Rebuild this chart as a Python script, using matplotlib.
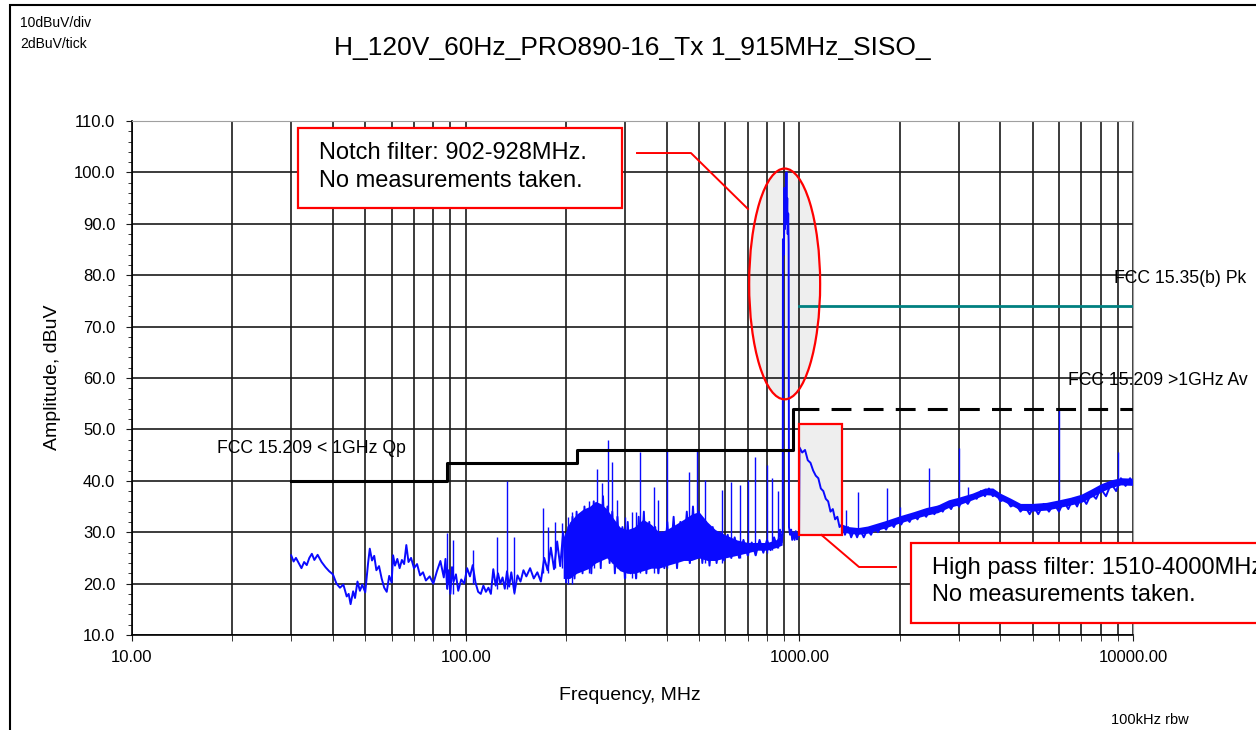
import matplotlib
matplotlib.use("Agg")
import matplotlib.pyplot as plt
from matplotlib.patches import Rectangle, Ellipse
from matplotlib.lines import Line2D
from matplotlib.ticker import FixedLocator, FuncFormatter, MultipleLocator, NullFormatter

plt.rcParams['font.family'] = ['Liberation Sans', 'DejaVu Sans']

# measured trace (MHz, dBuV)
trace_f = [30, 30.5, 31, 31.6, 32.2, 32.8, 33.4, 34, 34.6, 35.2, 36, 37, 38, 39, 40, 41, 42, 43, 44, 44.6,
           45.2, 46, 46.6, 47.4, 48.2, 49, 50, 51, 51.6, 52.4, 53.2, 54, 55, 56, 57, 58, 59, 60, 60.6, 61.4,
           62.4, 63.4, 64.4, 65.4, 66.4, 67.4, 68.6, 70, 71.5, 73, 74.5, 76, 78, 80, 82, 84, 86, 87, 88, 89,
           90, 91, 92, 93.5, 95, 97, 99, 101, 103, 105, 107, 109, 111, 113, 115, 117, 119, 121, 123, 125,
           127, 129, 131, 133, 135, 137, 140, 143, 146, 149, 152, 156, 160, 164, 168, 172, 176, 180, 184, 188,
           192, 196, 200, 203, 206, 209, 212, 215, 218, 221, 224, 227, 230, 234, 238, 242, 246, 250, 254, 258,
           262, 266, 270, 275, 280, 285, 290, 295, 300, 306, 312, 318, 324, 330, 336, 342, 348, 355, 362, 370,
           378, 386, 394, 402, 410, 420, 430, 440, 450, 460, 470, 480, 490, 500, 512, 525, 538, 550, 565, 580,
           595, 610, 625, 640, 660, 680, 700, 720, 740, 760, 780, 800, 820, 840, 860, 875, 886, 892,
           893, 899, 903, 906, 909, 912, 915, 917, 920, 923, 926, 929, 931,
           938, 945, 952, 960, 968, 976, 984, 991, 998,
           1001, 1020, 1040, 1060, 1080, 1100, 1120, 1140, 1160, 1180, 1200, 1220, 1240, 1260, 1280, 1300,
           1320, 1340, 1370, 1400, 1430, 1460, 1490, 1520, 1560, 1600, 1640, 1680, 1720, 1770, 1820, 1870,
           1920, 1970, 2020, 2080, 2140, 2200, 2260, 2330, 2400, 2470, 2540, 2610, 2690, 2770, 2850, 2930,
           3010, 3100, 3200, 3300, 3400, 3500, 3600, 3700, 3800, 3900, 4000, 4150, 4300, 4450, 4600, 4750,
           4900, 5050, 5200, 5400, 5600, 5800, 6000, 6200, 6400, 6600, 6800, 7000, 7250, 7500, 7750, 8000,
           8300, 8600, 8900, 9200, 9500, 9800, 10000]
trace_a = [25.5, 24.3, 25, 24, 23, 24.2, 23.6, 25, 25.8, 24.6, 25.6, 24.2, 23.2, 22.4, 21.8, 20, 19.2, 19.8, 17.5, 18,
           16, 18.5, 17.2, 20.4, 18.6, 19.8, 18.3, 24, 26.8, 24.5, 25.4, 22.6, 23.4, 21, 19.2, 18.4, 21.5, 20.2, 25.5, 23.5,
           24.8, 23, 24.6, 23.8, 27.5, 24.2, 25, 23, 23.8, 21.6, 22.2, 20.6, 21.4, 20, 22.4, 24.4, 21.2, 24.8, 19, 22.6,
           18, 23.2, 20.4, 21.8, 18.6, 20.8, 20, 23, 21.4, 23.6, 20.2, 18.4, 18, 19.6, 18.4, 19.2, 18, 22.8, 19.6, 22,
           20, 21.2, 19, 22.4, 19.4, 22.2, 18.2, 21.6, 20.4, 22.6, 21.4, 23, 21, 22.2, 20.4, 25, 22.6, 27, 22.8, 28.2,
           23.4, 30, 20.2, 31, 22, 33, 21, 34, 23, 33, 22, 35, 24, 34, 22, 36, 25, 35, 23, 37,
           26, 35, 24, 34, 22, 33, 24, 31, 21, 32, 22, 30, 21, 33, 23, 34, 22, 32, 24, 31,
           22, 30, 23, 32, 24, 33, 23, 32, 25, 34, 24, 35, 25, 34, 24, 32, 23.5, 31, 24, 30,
           24.5, 29.5, 25, 29, 25, 28.5, 25.5, 28, 25.5, 28.5, 26, 28.5, 26.5, 29, 27, 30.5, 28, 30,
           87, 84, 97, 89, 96, 90, 100, 91, 95, 88, 92, 86, 31,
           29.5, 30.5, 28.5, 30, 28.5, 30.2, 28.6, 29.8, 29.2,
           46.5, 45.5, 46, 44, 43.5, 42, 41, 40.5, 38.5, 38, 36.5, 36, 34, 34.5, 32.5, 33,
           31, 31.5, 29.5, 31, 29, 30.5, 29, 30.5, 29, 30.5, 29.5, 31, 30, 31.5, 30.5, 32,
           31, 32.5, 31.5, 33, 32, 33.5, 32.5, 34, 33, 34.5, 33.5, 35, 34, 35.5, 34.5, 36,
           35, 36.5, 35.5, 37, 36.5, 38, 37, 38.5, 37, 37.5, 36, 36.5, 35, 35.5, 34, 35,
           33.5, 35, 33.5, 35.5, 34, 35.5, 34, 36, 34.5, 36.5, 35, 37, 35.5, 37.5, 36.5, 38.5,
           37, 39.5, 38, 40.5, 39, 40.5, 39.5]

# dense noise floor (MHz, lower / upper edge dBuV)
band_f = [196, 205, 215, 225, 235, 245, 255, 265, 275, 290, 305, 320, 340, 360, 380, 400, 425, 450, 475,
          500, 530, 560, 600, 650, 700, 750, 800, 850, 888]
band_lo = [21, 21, 22, 22.5, 23, 24, 24.5, 25, 24, 22.5, 22, 22, 22.5, 23, 23, 23.5, 24, 24.5, 24.5,
           25, 24.5, 24.5, 25, 25.5, 26, 26.5, 26.5, 27, 27.5]
band_hi = [29, 32, 33.5, 34.5, 35, 36, 35.5, 34.5, 33, 31, 30.5, 31, 32.5, 31.5, 30, 30.5, 31.5, 32.5, 33.5,
           34, 32, 30.5, 29.5, 28.5, 28, 28, 28, 28.5, 29.5]
band2_f = [1340, 1400, 1500, 1600, 1800, 2000, 2200, 2400, 2600, 2800, 3000, 3300, 3600, 3800, 4000, 4300,
           4600, 5000, 5500, 6000, 6500, 7000, 7500, 8000, 8600, 9200, 10000]
band2_lo = [30.2, 29.8, 29.6, 29.8, 30.8, 31.8, 32.6, 33.3, 33.8, 34.8, 35.3, 36.3, 37.3, 37.2, 36.3, 35.3,
            34.3, 34.1, 34.3, 34.8, 35.3, 35.8, 36.8, 37.8, 38.7, 39.2, 39.1]
band2_hi = [31.6, 31.1, 30.9, 31.2, 32.2, 33.2, 34, 34.8, 35.3, 36.3, 36.8, 37.6, 38.6, 38.6, 37.6, 36.6,
            35.6, 35.6, 35.8, 36.3, 36.8, 37.4, 38.4, 39.4, 40.2, 40.6, 40.5]

# narrow emissions (MHz, floor dBuV, peak dBuV)
spike_f = [88, 91.5, 105, 124, 133, 140, 170, 176, 185, 195, 202, 208, 234, 242, 248, 256, 267, 275, 285,
           301, 315, 323, 333, 368, 377, 401, 466, 495, 520, 585, 625, 666, 700, 735, 800, 827, 862,
           1380, 1500, 1830, 2000, 2450, 3000, 3200, 6000, 9000]
spike_base = [19, 18, 20, 19, 19, 18, 22, 22, 23, 23, 20, 20, 22, 23, 25, 25, 25, 24, 23,
              21, 21, 21, 22, 22, 22, 23, 24, 25, 24, 24, 25, 25, 25.5, 25.5, 26, 26.5, 27,
              30, 30, 31.5, 32, 33.5, 35, 36, 34.5, 39]
spike_top = [29.8, 28.5, 26.5, 29, 40, 29, 34.7, 31, 32, 31.8, 33, 34, 36, 35.5, 42.3, 39.6, 48, 43.7, 36.2,
             33, 34, 34, 45.6, 38.8, 36.3, 46, 41.7, 46, 40.2, 38.2, 39.8, 39.2, 40.2, 44.6, 43, 40.5, 38,
             34.3, 37.8, 38.6, 35, 42.5, 46.3, 38.8, 54, 45.6]

# limit lines
qp_f = [30, 88, 88, 216, 216, 960, 960, 1000]
qp_a = [40, 40, 43.5, 43.5, 46, 46, 54, 54]
av_f = [1000, 10000]
av_a = [54, 54]
pk_f = [1000, 10000]
pk_a = [74, 74]

W, H = 1256, 730
fig = plt.figure(figsize=(W / 100, H / 100), dpi=100)
ax = fig.add_axes([132 / W, 1 - 635 / H, 1001 / W, 514 / H])
ax.set_xscale('log')
ax.set_xlim(10, 10000)
ax.set_ylim(10, 110)

ax.set_axisbelow(True)
ax.grid(which='both', axis='x', color='#1a1a1a', lw=1.2)
ax.grid(which='major', axis='y', color='#1a1a1a', lw=1.2)
ax.yaxis.set_major_locator(MultipleLocator(10))
ax.yaxis.set_minor_locator(MultipleLocator(2))
ax.yaxis.set_major_formatter(FuncFormatter(lambda v, p: '%.1f' % v))
ax.xaxis.set_major_locator(FixedLocator([10, 100, 1000, 10000]))
ax.xaxis.set_major_formatter(FuncFormatter(lambda v, p: '%.2f' % v))
ax.xaxis.set_minor_formatter(NullFormatter())
ax.tick_params(which='both', direction='out', labelsize=12, color='#1a1a1a')
ax.tick_params(axis='y', which='major', length=4, pad=8)
ax.tick_params(axis='y', which='minor', length=3)
ax.tick_params(axis='x', which='both', length=4, pad=7)
for s in ['top', 'right']:
    ax.spines[s].set_color('#a0a0a0')
for s in ['left', 'bottom']:
    ax.spines[s].set_linewidth(1.2)

# shaded regions
ax.add_patch(Ellipse((0.652, 0.683), 0.0709, 0.449, transform=ax.transAxes,
                     facecolor='#eeeeee', edgecolor='none', zorder=0.3))
ax.add_patch(Rectangle((1000, 29.5), 342, 21.5, facecolor='#eeeeee', edgecolor='none', zorder=0.8))

blue = '#0a0aff'
ax.fill_between(band_f, band_lo, band_hi, color=blue, lw=0, zorder=2.5)
ax.fill_between(band2_f, band2_lo, band2_hi, color=blue, lw=0, zorder=2.5)
ax.plot(trace_f, trace_a, color=blue, lw=1.4, zorder=3)
ax.vlines(spike_f, spike_base, spike_top, color=blue, lw=1.0, zorder=3)

ax.plot(qp_f, qp_a, color='black', lw=2.2, zorder=4)
ax.plot(av_f, av_a, color='black', lw=2.2, ls=(0, (6.5, 4)), zorder=4)
ax.plot(pk_f, pk_a, color='#008080', lw=2.0, zorder=4)

ax.text(8766, 79.4, 'FCC 15.35(b) Pk', fontsize=12.7, va='center', ha='left', clip_on=False, zorder=6)
ax.text(6384, 59.5, 'FCC 15.209 >1GHz Av', fontsize=12.7, va='center', ha='left', clip_on=False, zorder=6)
ax.text(18.04, 46.3, 'FCC 15.209 < 1GHz Qp', fontsize=12.7, va='center', ha='left', clip_on=False, zorder=6)

# annotations
ax.add_patch(Ellipse((0.652, 0.683), 0.0709, 0.449, transform=ax.transAxes,
                     facecolor='none', edgecolor='#ff0000', lw=1.6, zorder=5))
ax.add_patch(Rectangle((1000, 29.5), 342, 21.5, facecolor='none', edgecolor='#ff0000', lw=1.6, zorder=5))

ax.add_patch(Rectangle((0.1658, 0.8307), 0.3237, 0.1556, transform=ax.transAxes,
                       facecolor='white', edgecolor='#ff0000', lw=1.6, zorder=7, clip_on=False))
ax.text(0.1868, 0.9377, 'Notch filter: 902-928MHz.', transform=ax.transAxes, fontsize=17,
        va='center', ha='left', zorder=8)
ax.text(0.1868, 0.8833, 'No measurements taken.', transform=ax.transAxes, fontsize=17,
        va='center', ha='left', zorder=8)
ax.add_line(Line2D([0.5045, 0.5584, 0.6154], [0.9377, 0.9377, 0.8288], transform=ax.transAxes,
                   color='#ff0000', lw=1.4, zorder=7))

ax.add_patch(Rectangle((0.7782, 0.0233), 0.45, 0.1556, transform=ax.transAxes,
                       facecolor='white', edgecolor='#ff0000', lw=1.6, zorder=7, clip_on=False))
ax.text(0.7992, 0.1304, 'High pass filter: 1510-4000MHz.', transform=ax.transAxes, fontsize=17,
        va='center', ha='left', zorder=8, clip_on=False)
ax.text(0.7992, 0.0778, 'No measurements taken.', transform=ax.transAxes, fontsize=17,
        va='center', ha='left', zorder=8, clip_on=False)
ax.add_line(Line2D([0.6888, 0.7263, 0.7632], [0.1946, 0.1323, 0.1323], transform=ax.transAxes,
                   color='#ff0000', lw=1.4, zorder=7))

# page texts
fig.text(632 / W, 1 - 48 / H, 'H_120V_60Hz_PRO890-16_Tx 1_915MHz_SISO_', fontsize=19,
         ha='center', va='center')
fig.text(20 / W, 1 - 23 / H, '10dBuV/div', fontsize=10, ha='left', va='center')
fig.text(20 / W, 1 - 44 / H, '2dBuV/tick', fontsize=10, ha='left', va='center')
fig.text(630 / W, 1 - 695 / H, 'Frequency, MHz', fontsize=14, ha='center', va='center')
fig.text(53 / W, 1 - 377 / H, 'Amplitude, dBuV', fontsize=14, rotation=90, ha='center', va='center')
fig.text(1111 / W, 1 - 720 / H, '100kHz rbw', fontsize=10.5, ha='left', va='center')

fig.add_artist(Rectangle((10 / W, -0.1), 1.2, 1.1 - 5 / H, transform=fig.transFigure,
                         fill=False, edgecolor='black', lw=1.5))

fig.savefig('out.png', dpi=100)
